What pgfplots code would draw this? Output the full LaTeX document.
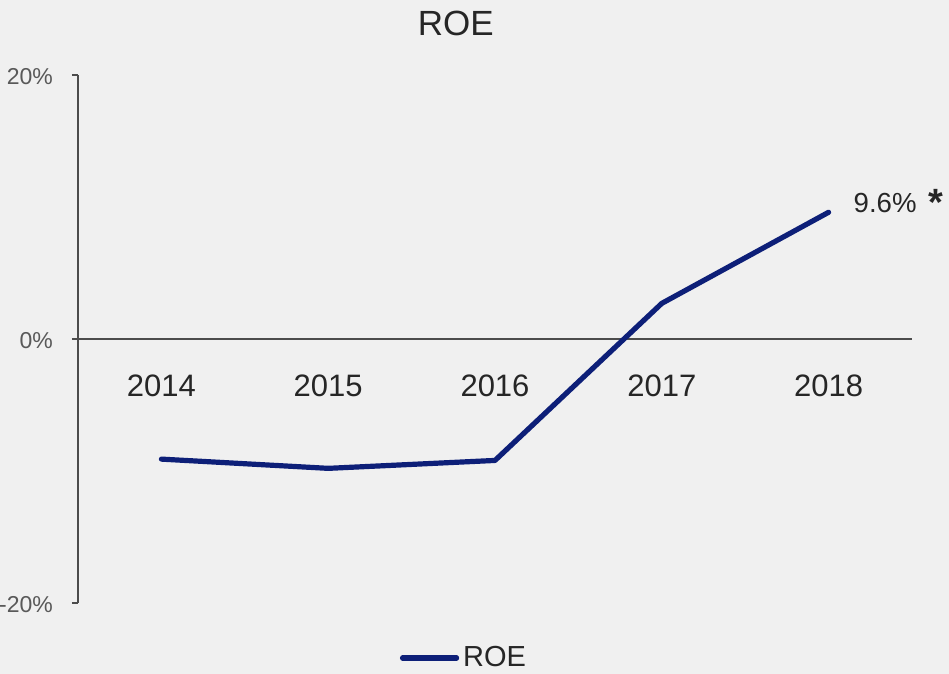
\documentclass[border=0pt]{standalone}
\usepackage{pgfplots}
\pgfplotsset{compat=1.18}
\usepackage{fontspec}
\setmainfont{Liberation Sans}

\definecolor{bgc}{HTML}{F0F0F0}
\definecolor{roe}{HTML}{0D1F78}
\definecolor{txt}{HTML}{595959}

\begin{document}
\begin{tikzpicture}
% background, 1px = 0.5pt
\fill[bgc] (0,0) rectangle (474.5pt,337pt);
\begin{axis}[
    at={(39pt,35.5pt)}, anchor=south west,
    scale only axis,
    width=417pt, height=264pt,
    xmin=-0.5, xmax=4.5,
    ymin=-20, ymax=20,
    axis y line*=left,
    axis x line*=middle,
    axis line style={black!70, line width=0.6pt},
    xtick={0,1,2,3,4},
    xticklabels={2014,2015,2016,2017,2018},
    xtick style={draw=none},
    xticklabel style={font=\fontsize{15.5}{18}\selectfont, text=black!85, yshift=-11.5pt},
    ytick={-20,0,20},
    yticklabels={-20\%,0\%,20\%},
    yticklabel style={font=\fontsize{11.5}{14}\selectfont, text=txt, xshift=-6pt, yshift=-1pt},
    ytick style={black!70, line width=0.6pt},
    tick align=outside,
    major tick length=3pt,
    title={ROE},
    title style={font=\fontsize{17.5}{20}\selectfont, text=black!85, at={(0.453,1)}, anchor=base, yshift=14pt},
    legend style={draw=none, fill=none, at={(0.464,0)}, anchor=center, yshift=-27.5pt,
        font=\fontsize{14.5}{17}\selectfont, text=black!85, inner sep=0pt},
    legend image code/.code={\draw[#1] (0pt,0pt) -- (27pt,0pt);},
    legend cell align=left,
    /tikz/every even column/.append style={column sep=1pt},
]
\addplot[roe, line width=2.6pt, line cap=round, line join=round] coordinates {
    (0, -9.1)
    (1, -9.8)
    (2, -9.2)
    (3, 2.7)
    (4, 9.6)
};
\addlegendentry{ROE}
\addplot[draw=none, forget plot, nodes near coords={9.6\%\hspace{0.45em}\raisebox{-1.5pt}{\bfseries\fontsize{19}{20}\selectfont *}},
    every node near coord/.style={anchor=west, xshift=9pt, yshift=5pt, font=\fontsize{13.8}{16}\selectfont, text=black!85}]
    coordinates {(4, 9.6)};
\end{axis}
\pgfresetboundingbox
\useasboundingbox (0,0) rectangle (474.5pt,337pt);
\end{tikzpicture}
\end{document}
